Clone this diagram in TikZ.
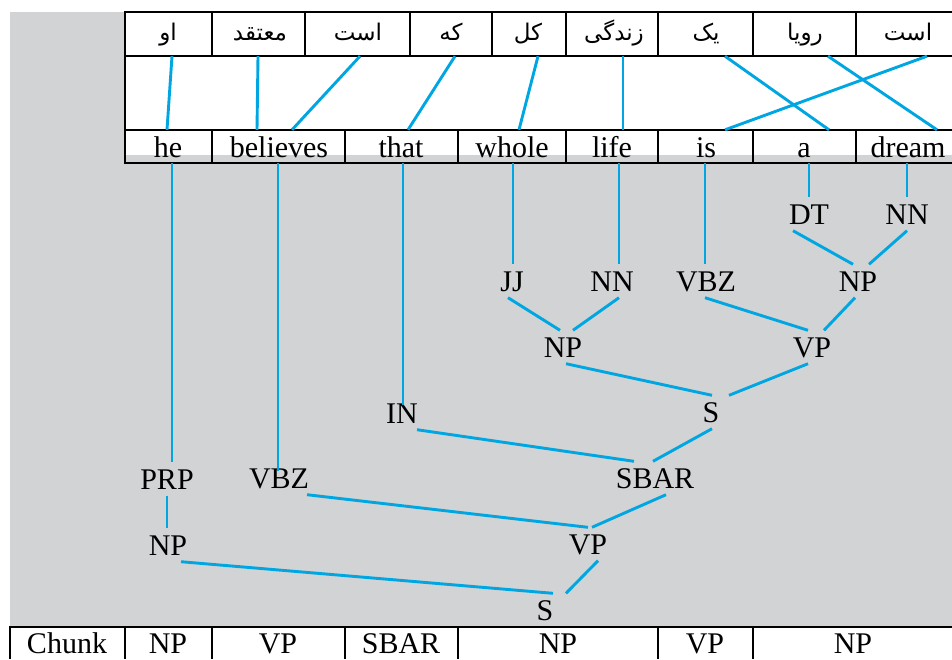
\documentclass[tikz,border=0pt]{standalone}
\usepackage{fontspec}
\setmainfont{Liberation Serif}
\newfontfamily\fafont[Script=Arabic]{DejaVu Sans}
\TeXXeTstate=1
\definecolor{bggray}{RGB}{209,211,212}
\definecolor{linkblue}{RGB}{0,166,226}
\tikzset{
  link/.style={draw=linkblue, line width=2.9pt},
  rule/.style={draw=black, line width=1.7pt},
  fa/.style={inner xsep=0pt, inner ysep=11pt, text height=17pt, text depth=5pt, font=\fafont\fontsize{23}{23}\selectfont},
  en/.style={inner xsep=0pt, inner ysep=6pt, text height=21pt, text depth=0pt, font=\fontsize{30}{30}\selectfont},
  lab/.style={inner xsep=1pt, inner ysep=6.5pt, text height=20pt, text depth=0pt, font=\fontsize{30}{30}\selectfont},
  chunk/.style={lab, inner ysep=1.5pt},
}
\begin{document}
\begin{tikzpicture}[x=1pt,y=-1pt]
\useasboundingbox (0,0) rectangle (952,659);
% backgrounds
\fill[bggray] (10,12) rectangle (952,627);
\fill[white] (125,12) rectangle (952,155);
\fill[white] (10,627) rectangle (952,659);
% table rules
\draw[rule] (125,12) -- (952,12) (125,56) -- (952,56) (125,130) -- (952,130) (125,163) -- (952,163);
\draw[rule] (125,11.2) -- (125,163.8);
\foreach \x in {212,305,410,492,566,658,753,856} \draw[rule] (\x,12) -- (\x,56);
\foreach \x in {212,345,458,566,658,753,856} \draw[rule] (\x,130) -- (\x,163);
\draw[rule] (9.2,627) -- (952,627);
\foreach \x in {10,125,212,345,458,658,753} \draw[rule] (\x,627) -- (\x,659);
% Persian row
\node[fa] (p1) at (168,34) {\beginR او\endR};
\node[fa] (p2) at (260,34) {\beginR معتقد\endR};
\node[fa] (p3) at (358,34) {\beginR است\endR};
\node[fa] (p4) at (451,34) {\beginR که\endR};
\node[fa] (p5) at (528,34) {\beginR کل\endR};
\node[fa] (p6) at (614,34) {\beginR زندگی\endR};
\node[fa] (p7) at (706,34) {\beginR یک\endR};
\node[fa] (p8) at (805,34) {\beginR رویا\endR};
\node[fa] (p9) at (908,34) {\beginR است\endR};
% English row
\node[en] (e1) at (168,146.5) {he};
\node[en] (e2) at (279,146.5) {believes};
\node[en] (e3) at (401,146.5) {that};
\node[en] (e4) at (512,146.5) {whole};
\node[en] (e5) at (612,146.5) {life};
\node[en] (e6) at (706,146.5) {is};
\node[en] (e7) at (804,146.5) {a};
\node[en] (e8) at (908,146.5) {dream};
% alignment links
\draw[link] ([xshift=4pt]p1.south) -- ([xshift=-1pt]e1.north);
\draw[link] ([xshift=-2pt]p2.south) -- ([xshift=-22pt]e2.north);
\draw[link] ([xshift=2pt]p3.south) -- ([xshift=13pt]e2.north);
\draw[link] ([xshift=4pt]p4.south) -- ([xshift=7pt]e3.north);
\draw[link] ([xshift=10pt]p5.south) -- ([xshift=7pt]e4.north);
\draw[link] ([xshift=9pt]p6.south) -- ([xshift=11pt]e5.north);
\draw[link] ([xshift=19pt]p7.south) -- ([xshift=25pt]e7.north);
\draw[link] ([xshift=23pt]p8.south) -- ([xshift=29pt]e8.north);
\draw[link] ([xshift=19pt]p9.south) -- ([xshift=19pt]e6.north);
% tree labels
\node[lab] (dt) at (809,214) {DT};
\node[lab] (nnb) at (907,214) {NN};
\node[lab] (jj) at (512,281) {JJ};
\node[lab] (nna) at (612,281) {NN};
\node[lab] (vbzb) at (706,281) {VBZ};
\node[lab] (npc) at (858,281) {NP};
\node[lab] (npb) at (563,347) {NP};
\node[lab] (vpb) at (812,347) {VP};
\node[lab] (in) at (402,413) {IN};
\node[lab] (sb) at (711,412) {S};
\node[lab] (prp) at (167,479) {PRP};
\node[lab] (vbza) at (279,478) {VBZ};
\node[lab] (sbar) at (655,478) {SBAR};
\node[lab] (npa) at (168,545) {NP};
\node[lab] (vpa) at (588,544) {VP};
\node[lab] (sa) at (545,610) {S};
% chunk row
\node[chunk] (c0) at (67,643) {Chunk};
\node[chunk] (c1) at (168,643) {NP};
\node[chunk] (c2) at (278,643) {VP};
\node[chunk] (c3) at (401,643) {SBAR};
\node[chunk] (c4) at (558,643) {NP};
\node[chunk] (c5) at (705,643) {VP};
\node[chunk] (c6) at (853,643) {NP};
% word to POS
\draw[link] ([xshift=4pt]e1.south) -- ([xshift=5pt]prp.north);
\draw[link] ([xshift=-1pt]e2.south) -- ([xshift=-1pt,yshift=-10pt]vbza.north);
\draw[link] ([xshift=2pt]e3.south) -- ([xshift=1pt,yshift=-8.5pt]in.north);
\draw[link] ([xshift=1pt]e4.south) -- ([xshift=1pt]jj.north);
\draw[link] ([xshift=7pt]e5.south) -- ([xshift=7pt]nna.north);
\draw[link] ([xshift=-1pt]e6.south) -- ([xshift=-1pt]vbzb.north);
\draw[link] ([xshift=5pt]e7.south) -- (dt.north);
\draw[link] ([xshift=-1pt]e8.south) -- (nnb.north);
% tree edges
\draw[link] ([xshift=-16pt]dt.south) -- ([xshift=-5pt]npc.north);
\draw[link] (nnb.south) -- ([xshift=11pt]npc.north);
\draw[link] ([xshift=-4pt]jj.south) -- ([xshift=-3pt]npb.north);
\draw[link] ([xshift=7pt]nna.south) -- ([xshift=10pt]npb.north);
\draw[link] ([xshift=-1pt]vbzb.south) -- ([xshift=-4pt]vpb.north);
\draw[link] ([xshift=-3pt]npc.south) -- ([xshift=12pt]vpb.north);
\draw[link] ([xshift=3pt]npb.south) -- ([xshift=1pt]sb.north);
\draw[link] ([xshift=-4pt]vpb.south) -- ([xshift=18pt]sb.north);
\draw[link] ([xshift=15pt]in.south) -- ([xshift=-21pt]sbar.north);
\draw[link] ([xshift=1pt]sb.south) -- ([xshift=-2pt]sbar.north);
\draw[link] (prp.south) -- ([xshift=-1pt]npa.north);
\draw[link] ([xshift=28pt]vbza.south) -- (vpa.north);
\draw[link] ([xshift=11pt]sbar.south) -- ([xshift=4pt]vpa.north);
\draw[link] ([xshift=13pt]npa.south) -- ([xshift=8pt]sa.north);
\draw[link] ([xshift=10pt]vpa.south) -- ([xshift=21pt]sa.north);
\end{tikzpicture}
\end{document}
